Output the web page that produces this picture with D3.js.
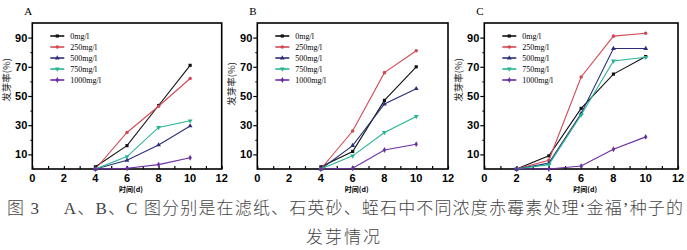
<!DOCTYPE html>
<html>
<head>
<meta charset="utf-8">
<script src="https://cdn.jsdelivr.net/npm/d3@7"></script>
<style>
  body { margin: 0; background: #fff; }
  svg { display: block; }
  .tick-label { font-family: Arial, "Liberation Sans", sans-serif; font-weight: bold; font-size: 11px; }
  .legend-text { font-family: "Liberation Serif", "Times New Roman", serif; font-size: 8px; }
  .cjk { font-family: "Noto Sans CJK SC", sans-serif; }
  .caption { font-family: "Liberation Serif", "Noto Sans CJK SC", serif; }
</style>
</head>
<body>
<svg id="figure" width="687" height="250"></svg>
<script>
// series names and colours (shared by the three panels)
const seriesNames = ["0mg/l", "250mg/l", "500mg/l", "750mg/l", "1000mg/l"];
const seriesColors = ["#111111", "#d24a55", "#2b2f7a", "#27b592", "#6a2fa0"];
const seriesSymbols = [d3.symbolSquare, d3.symbolCircle, d3.symbolTriangle, d3.symbolTriangle, d3.symbolDiamond];

// A: filter paper
const daysA = [4, 6, 8, 10];
const rateA = [
  [1.5, 16, 43.5, 71],
  [0, 25, 43, 62],
  [0, 6, 16.5, 29.5],
  [0, 8.5, 28.5, 33],
  [0, 0.5, 3, 7.7]
];

// B: quartz sand
const daysB = [4, 6, 8, 10];
const rateB = [
  [1.5, 12, 47, 70],
  [0, 26, 66, 81],
  [0, 16, 44.5, 55],
  [0, 9, 25, 36],
  [0, 0.5, 13, 17]
];

// C: vermiculite
const daysC = [2, 4, 6, 8, 10];
const rateC = [
  [0, 9, 41.5, 65, 77],
  [0, 6, 63, 91, 93],
  [0, 4, 38, 82.5, 82.5],
  [0, 3, 37, 74, 76.5],
  [0, 0, 2, 13.5, 22]
];

const xTicks = [0, 2, 4, 6, 8, 10, 12];
const yTicks = [10, 30, 50, 70, 90];
const xLabel = "时间(d)";
const yLabel = "发芽率(%)";
const captionLine1 = "图 3　 A、B、C 图分别是在滤纸、石英砂、蛭石中不同浓度赤霉素处理‘金福’种子的";
const captionLine2 = "发芽情况";

const panels = [
  {name: "A", days: daysA, rates: rateA, left: 32.3, right: 221.7, yLabelMid: 80},
  {name: "B", days: daysB, rates: rateB, left: 257.3, right: 448, yLabelMid: 84},
  {name: "C", days: daysC, rates: rateC, left: 484.3, right: 678, yLabelMid: 80}
];

const plotTop = 23, plotBottom = 169;
const svg = d3.select("#figure");

panels.forEach(p => {
  const x = d3.scaleLinear().domain([0, 12]).range([p.left, p.right]);
  const y = d3.scaleLinear().domain([0, 100]).range([plotBottom, plotTop]);
  const g = svg.append("g");

  // frame
  g.append("rect")
    .attr("x", p.left).attr("y", plotTop)
    .attr("width", p.right - p.left).attr("height", plotBottom - plotTop)
    .attr("fill", "none").attr("stroke", "#000").attr("stroke-width", 1.6);

  // x axis: ticks point inward
  const xAxis = g.append("g")
    .attr("transform", "translate(0," + plotBottom + ")")
    .call(d3.axisBottom(x).tickValues(d3.range(0, 13, 1)).tickSize(-3).tickFormat(""));
  xAxis.select(".domain").remove();
  xAxis.selectAll("line").attr("stroke", "#000").attr("stroke-width", 1.2);
  g.append("g").selectAll("text").data(xTicks).join("text")
    .attr("class", "tick-label")
    .attr("x", d => x(d)).attr("y", plotBottom + 13)
    .attr("text-anchor", "middle")
    .text(d => d);

  // y axis: ticks point outward
  const yAxis = g.append("g")
    .attr("transform", "translate(" + p.left + ",0)")
    .call(d3.axisLeft(y).tickValues(yTicks).tickSize(4).tickFormat(""));
  yAxis.select(".domain").remove();
  yAxis.selectAll("line").attr("stroke", "#000").attr("stroke-width", 1.2);
  const yMinor = g.append("g")
    .attr("transform", "translate(" + p.left + ",0)")
    .call(d3.axisLeft(y).tickValues([20, 40, 60, 80]).tickSize(2).tickFormat(""));
  yMinor.select(".domain").remove();
  yMinor.selectAll("line").attr("stroke", "#000").attr("stroke-width", 1);
  g.append("g").selectAll("text").data(yTicks).join("text")
    .attr("class", "tick-label")
    .attr("x", p.left - 5).attr("y", d => y(d) + 4)
    .attr("text-anchor", "end")
    .text(d => d);

  // axis titles
  g.append("text")
    .attr("class", "cjk")
    .attr("x", (p.left + p.right) / 2 + 4).attr("y", plotBottom + 23)
    .attr("text-anchor", "middle")
    .attr("font-size", 7).attr("font-weight", "bold")
    .text(xLabel);
  g.append("text")
    .attr("class", "cjk")
    .attr("transform", "translate(" + (p.left - 22) + "," + p.yLabelMid + ") rotate(-90)")
    .attr("text-anchor", "middle")
    .attr("font-size", 9.5).attr("fill", "#222")
    .text(yLabel);

  // panel letter
  g.append("text")
    .attr("x", p.left - 8).attr("y", plotTop - 8)
    .attr("font-family", "'Liberation Serif', serif")
    .attr("font-size", 11)
    .text(p.name);

  // series
  const line = d3.line().x(d => x(d[0])).y(d => y(d[1]));
  p.rates.forEach((vals, i) => {
    const pts = p.days.map((d, j) => [d, vals[j]]);
    g.append("path")
      .datum(pts)
      .attr("d", line)
      .attr("fill", "none")
      .attr("stroke", seriesColors[i])
      .attr("stroke-width", 1.1);
    g.selectAll(null).data(pts).join("path")
      .attr("transform", d => "translate(" + x(d[0]) + "," + y(d[1]) + ")" + (i === 3 ? " rotate(180)" : ""))
      .attr("d", d3.symbol().type(seriesSymbols[i]).size(10))
      .attr("fill", seriesColors[i]);
  });

  // legend
  const lg = g.append("g").attr("transform", "translate(" + (p.left + 18) + "," + (plotTop + 13) + ")");
  seriesNames.forEach((name, i) => {
    const row = lg.append("g").attr("transform", "translate(0," + (i * 11) + ")");
    row.append("line").attr("x1", 0).attr("x2", 14).attr("y1", 0).attr("y2", 0)
      .attr("stroke", seriesColors[i]).attr("stroke-width", 1.6);
    row.append("path")
      .attr("transform", "translate(7,0)" + (i === 3 ? " rotate(180)" : ""))
      .attr("d", d3.symbol().type(seriesSymbols[i]).size(10))
      .attr("fill", seriesColors[i]);
    row.append("text").attr("class", "legend-text")
      .attr("x", 20).attr("y", 3)
      .text(name);
  });
});

// caption
svg.append("text")
  .attr("class", "caption")
  .attr("x", 7).attr("y", 214)
  .attr("font-size", 17).attr("font-weight", 300).attr("fill", "#444")
  .attr("textLength", 676).attr("lengthAdjust", "spacing")
  .text(captionLine1);
svg.append("text")
  .attr("class", "caption")
  .attr("x", 344).attr("y", 243)
  .attr("text-anchor", "middle")
  .attr("font-size", 17).attr("font-weight", 300).attr("fill", "#444")
  .attr("letter-spacing", 2)
  .text(captionLine2);
</script>
</body>
</html>
